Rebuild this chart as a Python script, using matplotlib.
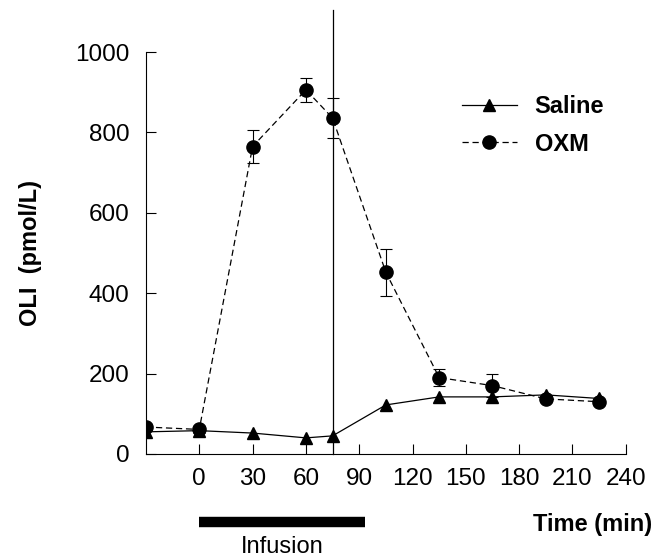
import matplotlib
matplotlib.use("Agg")
from matplotlib import pyplot as plt
from matplotlib.transforms import blended_transform_factory

plt.rcParams['font.family'] = ['Liberation Sans', 'DejaVu Sans']

# time points (min)
time = [-30, 0, 30, 60, 75, 105, 135, 165, 195, 225]
# saline group
saline = [55, 58, 52, 40, 45, 122, 142, 142, 147, 138]
saline_err = [12, 12, 15, 12, 14, 8, 6, 6, 6, 5]
# oxyntomodulin group
oxm = [67, 61, 765, 906, 836, 452, 190, 170, 137, 130]
oxm_err = [8, 8, 42, 29, 50, 58, 22, 28, 6, 6]

xticks = [0, 30, 60, 90, 120, 150, 180, 210, 240]
yticks = [0, 200, 400, 600, 800, 1000]
infusion = (0, 93)
stop_time = 75

fig = plt.figure(figsize=(6.65, 5.57), dpi=100)
ax = fig.add_axes([0.2195, 0.185, 0.7215, 0.7215])

# saline: solid line, triangles, lower error bars
ax.errorbar(time, saline, yerr=[saline_err, [0] * len(saline_err)], fmt='none',
            ecolor='black', elinewidth=0.8, capsize=0)
ax.plot(time, saline, '-', color='black', lw=0.9, marker='^', ms=9,
        label='Saline')

# OXM: dashed line, circles, error bars with caps
ax.errorbar(time, oxm, yerr=oxm_err, fmt='none', ecolor='black',
            elinewidth=0.8, capsize=4, capthick=0.8)
ax.plot(time, oxm, '--', color='black', lw=0.9, dashes=(5, 3), marker='o',
        ms=9.5, label='OXM')

# end of infusion line
ax.axvline(stop_time, ymin=0, ymax=1.105, color='black', lw=0.9, clip_on=False)

ax.set_xlim(-30, 240)
ax.set_ylim(0, 1000)
ax.set_xticks(xticks)
ax.set_yticks(yticks)
ax.tick_params(direction='in', length=7, width=0.8, labelsize=17.5)
ax.tick_params(axis='x', pad=10)
ax.tick_params(axis='y', pad=12)
ax.spines['top'].set_visible(False)
ax.spines['right'].set_visible(False)
ax.spines['left'].set_linewidth(0.8)
ax.spines['bottom'].set_linewidth(0.8)

ax.set_ylabel('OLI  (pmol/L)', fontsize=17, fontweight='bold', labelpad=24)

# infusion bar under the axis
trans = blended_transform_factory(ax.transData, ax.transAxes)
ax.plot(infusion, [-0.169, -0.169], color='black', lw=7.5, solid_capstyle='butt',
        transform=trans, clip_on=False)
ax.text(sum(infusion) / 2, -0.232, 'Infusion', transform=trans, ha='center',
        va='center', fontsize=17)
ax.text(1.054, -0.175, 'Time (min)', transform=ax.transAxes, ha='right',
        va='center', fontsize=17, fontweight='bold')

leg = ax.legend(loc='upper left', bbox_to_anchor=(0.658, 0.892), frameon=False,
                fontsize=17, handlelength=2.33, handletextpad=0.76,
                labelspacing=0.6, borderpad=0, borderaxespad=0)
for t in leg.get_texts():
    t.set_fontweight('bold')

fig.savefig('out.png', dpi=100)
